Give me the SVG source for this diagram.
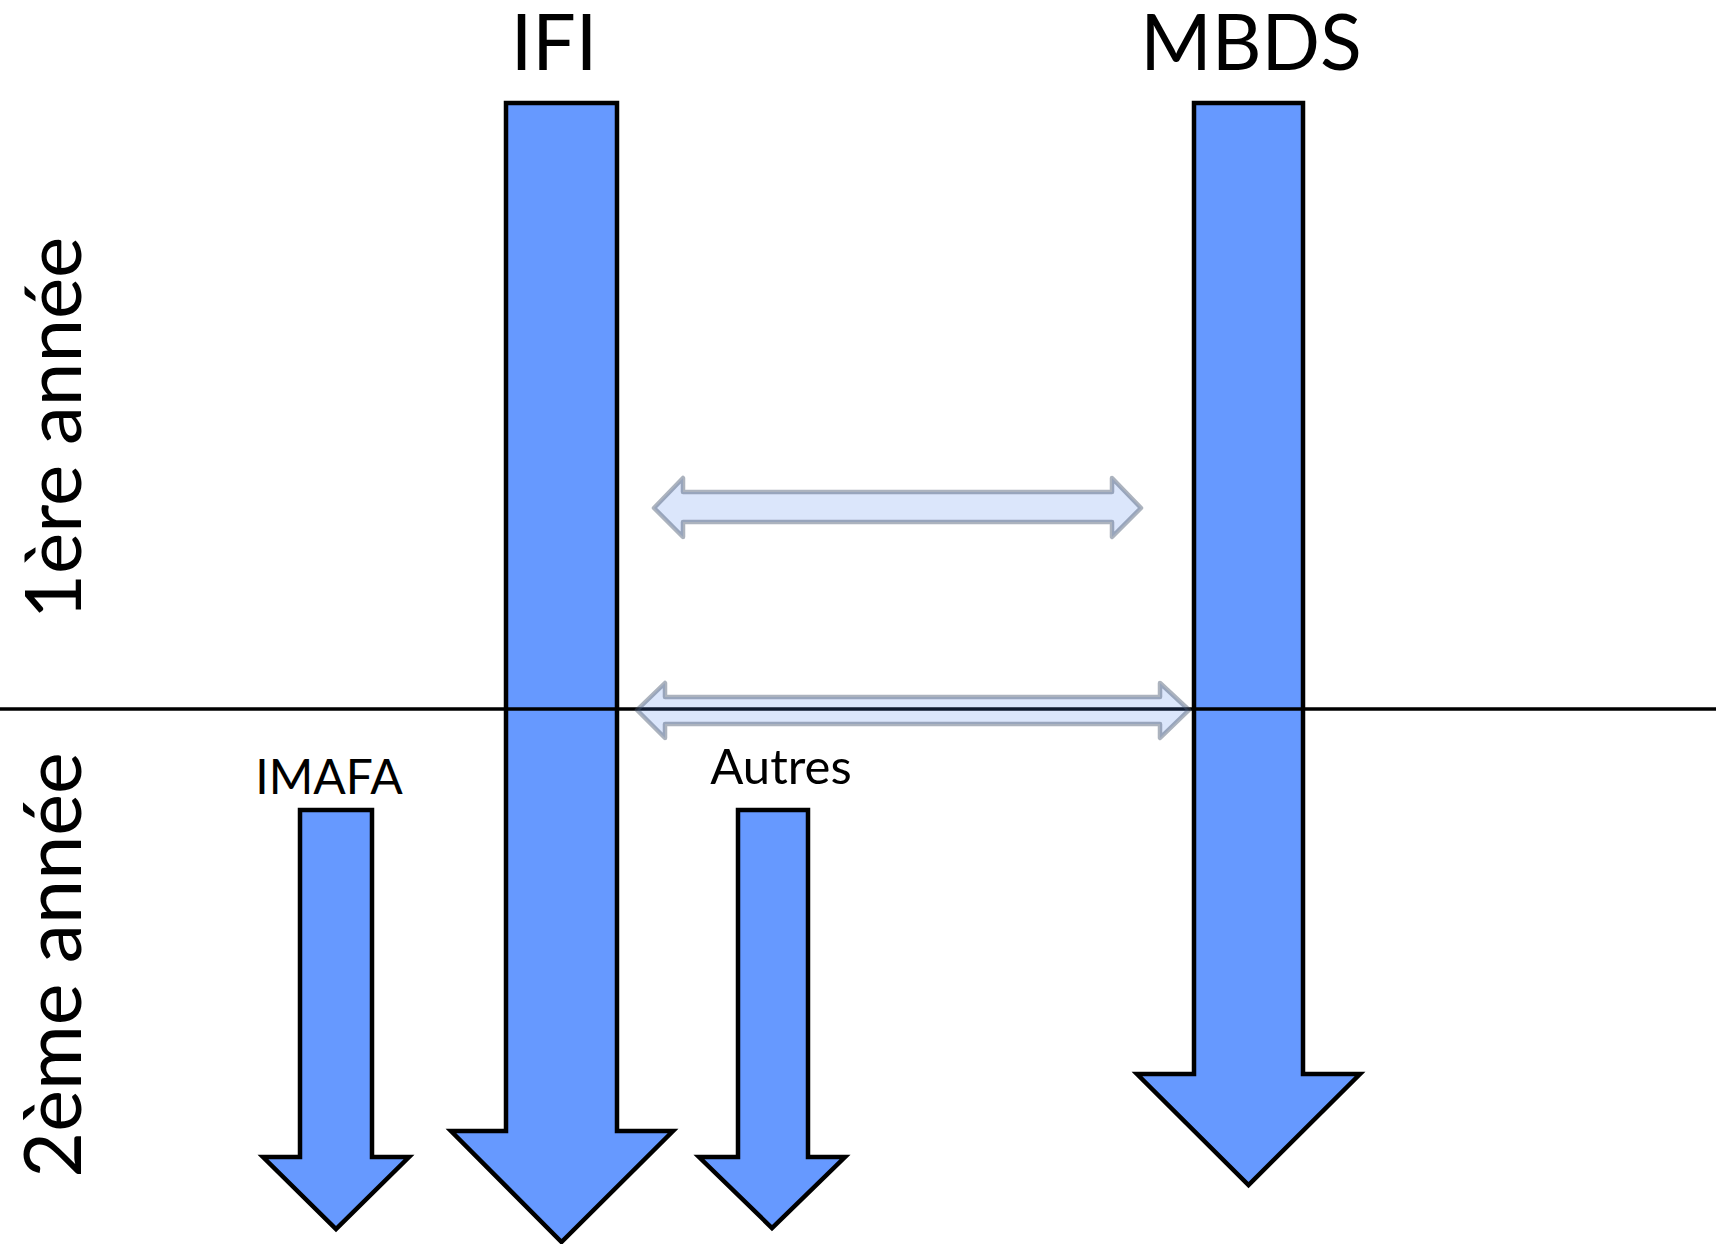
<svg xmlns="http://www.w3.org/2000/svg" width="1719" height="1244" viewBox="0 0 1719 1244">
<style>
.bar{fill:#6699FF;stroke:#000;stroke-width:4.5;stroke-linejoin:miter}
.dbl{fill:#4A80EB;fill-opacity:0.2;stroke:#46566E;stroke-opacity:0.45;stroke-width:4.5;stroke-linejoin:round}
.t{font-family:Lato,"Open Sans","Liberation Sans",sans-serif;fill:#000;text-anchor:middle}
</style>
<rect width="1719" height="1244" fill="#fff"/>
<g id="ifi">
<path class="bar" d="M506,103 H617 V1131 H673 L561.5,1242 L451,1131 H506 Z"/>
<text class="t" x="554" y="70" font-size="77">IFI</text>
</g>
<g id="mbds">
<path class="bar" d="M1194,103 H1303 V1074 H1360 L1248.5,1185 L1137,1074 H1194 Z"/>
<text class="t" x="1251" y="70" font-size="77">MBDS</text>
</g>
<g id="imafa">
<path class="bar" d="M300,810 H372 V1157 H409 L336,1229 L263,1157 H300 Z"/>
<text class="t" x="329" y="794" font-size="48">IMAFA</text>
</g>
<g id="autres">
<path class="bar" d="M738,810 H808 V1157 H845 L772,1228 L699,1157 H738 Z"/>
<text class="t" x="781" y="784" font-size="49">Autres</text>
</g>
<g id="labels">
<text class="t" font-size="78" transform="translate(81,428) rotate(-90)">1ère année</text>
<text class="t" font-size="79" transform="translate(81,965) rotate(-90)">2ème année</text>
</g>
<g id="connectors">
<line x1="0" y1="709" x2="1716" y2="709" stroke="#000" stroke-width="3.5"/>
<path class="dbl" d="M654,508 L683,478 V492 H1112 V478 L1141,508 L1112,537 V522 H683 V537 Z"/>
<path class="dbl" d="M637,710 L665,683 V697 H1160 V683 L1189,710 L1160,738 V724 H665 V738 Z"/>
</g>
</svg>
